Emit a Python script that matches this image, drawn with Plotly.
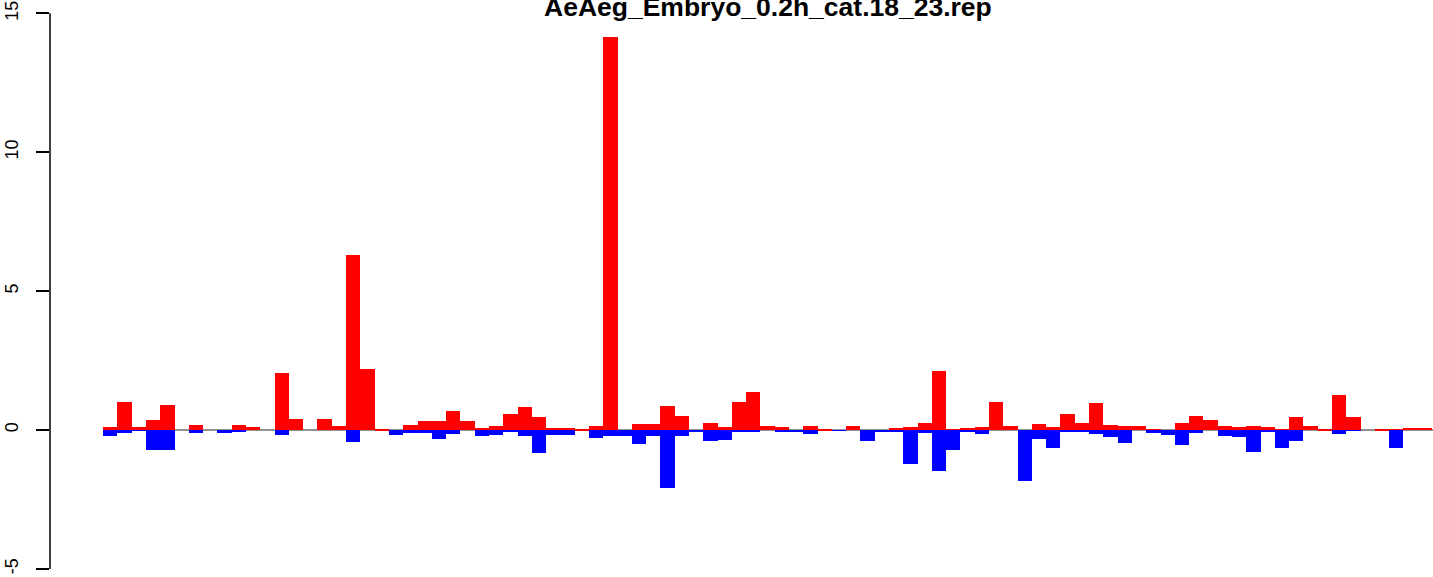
import plotly.graph_objects as go

title_text = "AeAeg_Embryo_0.2h_cat.18_23.rep"

bin_index = list(range(93))

red_values = [
    0.11, 1.01, 0.11, 0.36, 0.90, 0.00, 0.18, 0.00, 0.00, 0.18,
    0.11, 0.00, 2.05, 0.40, 0.00, 0.40, 0.14, 6.30, 2.20, 0.03,
    0.00, 0.18, 0.32, 0.32, 0.68, 0.32, 0.07, 0.14, 0.58, 0.83,
    0.47, 0.07, 0.07, 0.02, 0.14, 14.15, 0.00, 0.22, 0.22, 0.86,
    0.50, 0.00, 0.25, 0.11, 1.00, 1.37, 0.14, 0.11, 0.00, 0.14,
    0.02, 0.00, 0.14, 0.00, 0.00, 0.07, 0.11, 0.25, 2.12, 0.04,
    0.07, 0.11, 1.00, 0.14, 0.00, 0.22, 0.11, 0.58, 0.25, 0.97,
    0.18, 0.14, 0.14, 0.04, 0.00, 0.25, 0.50, 0.36, 0.14, 0.11,
    0.14, 0.11, 0.04, 0.47, 0.14, 0.02, 1.26, 0.47, 0.00, 0.02,
    0.04, 0.08, 0.08,
]

blue_values = [
    -0.22, -0.10, -0.03, -0.72, -0.72, 0.00, -0.11, 0.00, -0.11, -0.04,
    0.00, 0.00, -0.18, 0.00, 0.00, 0.00, 0.00, -0.43, 0.00, 0.00,
    -0.18, -0.10, -0.10, -0.32, -0.14, 0.00, -0.22, -0.18, -0.04, -0.22,
    -0.83, -0.18, -0.18, 0.00, -0.29, -0.22, -0.22, -0.50, -0.22, -2.08,
    -0.22, -0.07, -0.40, -0.36, -0.04, -0.04, 0.00, -0.04, -0.07, -0.14,
    0.00, -0.03, 0.00, -0.40, -0.07, -0.04, -1.22, -0.11, -1.48, -0.72,
    -0.04, -0.14, 0.00, 0.00, -1.84, -0.32, -0.65, -0.04, -0.07, -0.14,
    -0.25, -0.47, 0.00, -0.11, -0.18, -0.54, -0.11, 0.00, -0.22, -0.25,
    -0.79, -0.07, -0.65, -0.40, 0.00, 0.00, -0.14, -0.03, 0.00, 0.00,
    -0.64, 0.00, 0.00,
]

y_ticks = [-5, 0, 5, 10, 15]
y_tick_labels = ["-5", "0", "5", "10", "15"]

n = len(bin_index)
font_family = "Liberation Sans, Arial, Helvetica, sans-serif"

fig = go.Figure()
fig.add_trace(go.Bar(
    x=bin_index, y=red_values, width=1, offset=0,
    marker=dict(color="#FF0000", line=dict(width=0)),
    showlegend=False, hoverinfo="y",
))
fig.add_trace(go.Bar(
    x=bin_index, y=blue_values, width=1, offset=0,
    marker=dict(color="#0000FF", line=dict(width=0)),
    showlegend=False, hoverinfo="y",
))

# zero reference line (below bars)
fig.add_shape(type="line", xref="x", yref="y", x0=0, x1=n + 5, y0=0, y1=0,
              line=dict(color="#6e6e6e", width=1.5), layer="below")
# y axis line spanning only the tick range, as in base R graphics
fig.add_shape(type="line", xref="paper", yref="y", x0=0, x1=0,
              y0=y_ticks[0], y1=y_ticks[-1],
              line=dict(color="black", width=1.5))

fig.add_annotation(
    text="<b>" + title_text + "</b>", xref="paper", yref="paper",
    x=(767.5 - 50) / 1383, y=1, xanchor="center", yanchor="bottom",
    yshift=-24, showarrow=False,
    font=dict(family=font_family, size=26.5, color="black"),
)

fig.update_layout(
    width=1433, height=577,
    margin=dict(l=50, r=0, t=0, b=0),
    paper_bgcolor="white", plot_bgcolor="white",
    barmode="overlay", bargap=0,
    font=dict(family=font_family, color="black"),
    xaxis=dict(range=[-0.04 * n, n + 0.07], visible=False, fixedrange=True),
    yaxis=dict(
        range=[-5.29, 15.48], tickmode="array", tickvals=y_ticks,
        ticktext=y_tick_labels, tickangle=-90, ticks="outside", ticklen=13,
        tickwidth=1.5, tickcolor="black", showline=False, showgrid=False,
        zeroline=False, tickfont=dict(size=18, color="black", family=font_family),
        ticklabelstandoff=11, automargin=False,
    ),
)

fig.write_html(
    "out.html",
    config={"displayModeBar": False},
    post_script="document.body.style.margin='0';document.body.style.overflow='hidden';",
)
